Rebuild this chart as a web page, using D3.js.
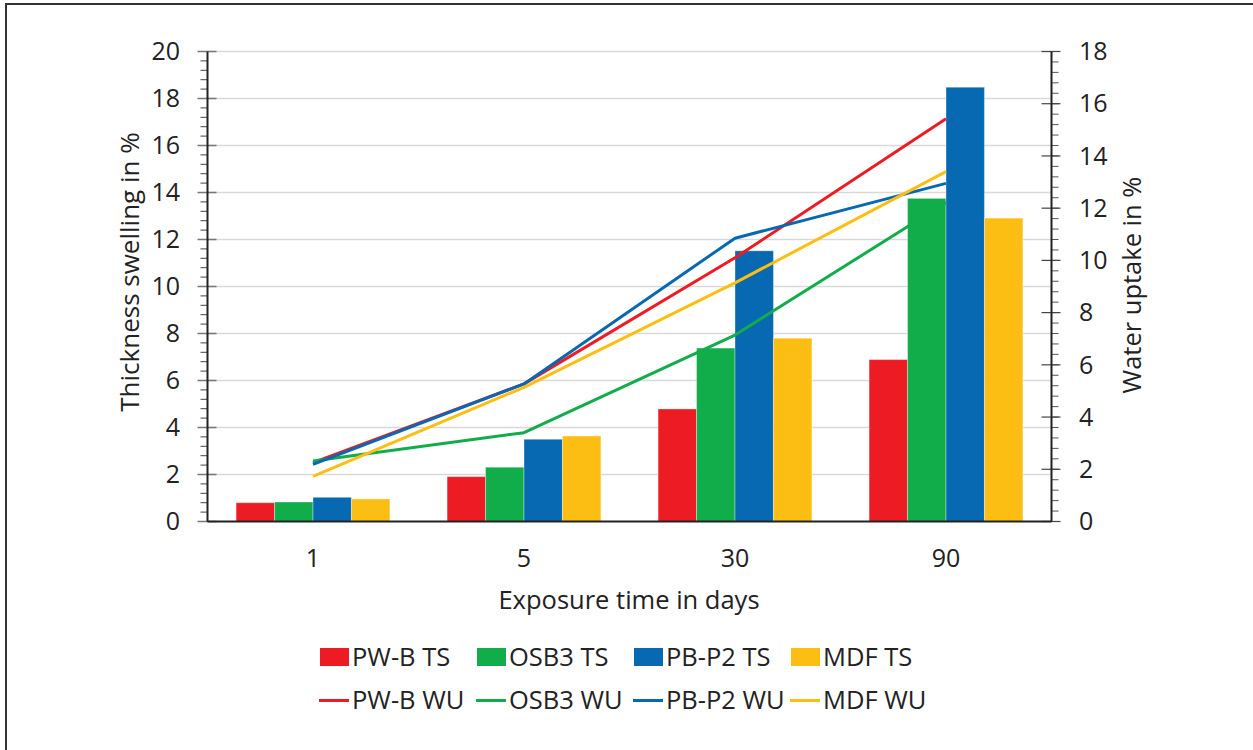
<!DOCTYPE html>
<html>
<head>
<meta charset="utf-8">
<script src="https://cdn.jsdelivr.net/npm/d3@7"></script>
<style>
  html, body { margin: 0; padding: 0; background: #fff; }
  svg { display: block; }
  text { font-family: "Open Sans", "Noto Sans", sans-serif; fill: #222; }
</style>
</head>
<body>
<svg id="chart" width="1253" height="750"></svg>
<script>
// ---- Data ----
const categories = ["1", "5", "30", "90"];
const seriesNames = ["PW-B", "OSB3", "PB-P2", "MDF"];
const tsPWB  = [0.80, 1.91, 4.79, 6.89];
const tsOSB3 = [0.83, 2.31, 7.38, 13.75];
const tsPBP2 = [1.03, 3.50, 11.52, 18.48];
const tsMDF  = [0.96, 3.64, 7.80, 12.91];
const wuPWB  = [2.25, 5.27, 10.10, 15.42];
const wuOSB3 = [2.32, 3.40, 7.14, 12.22];
const wuPBP2 = [2.19, 5.27, 10.85, 12.95];
const wuMDF  = [1.73, 5.14, 9.14, 13.40];
const leftTicks = [0, 2, 4, 6, 8, 10, 12, 14, 16, 18, 20];
const rightTicks = [0, 2, 4, 6, 8, 10, 12, 14, 16, 18];
const colors = ["#ED1C24", "#11AD4B", "#0869B3", "#FDBE14"];

const tsSeries = [tsPWB, tsOSB3, tsPBP2, tsMDF];
const wuSeries = [wuPWB, wuOSB3, wuPBP2, wuMDF];

// ---- Layout ----
const svg = d3.select("#chart");
const L = 207.5, R = 1051.5, T = 51.5, B = 521.5;

// outer frame
svg.append("rect").attr("x", 6).attr("y", 4).attr("width", 1260).attr("height", 760)
  .attr("fill", "none").attr("stroke", "#333").attr("stroke-width", 2);

const x0 = d3.scaleBand().domain(categories).range([L, R]).paddingInner(0.271).paddingOuter(0.1355);
const x1 = d3.scaleBand().domain(seriesNames).range([0, x0.bandwidth()]);
const yL = d3.scaleLinear().domain([0, 20]).range([B, T]);
const yR = d3.scaleLinear().domain([0, 18]).range([B, T]);

// gridlines
svg.append("g").selectAll("line").data(leftTicks.filter(d => d > 0)).join("line")
  .attr("x1", L).attr("x2", R).attr("y1", d => yL(d)).attr("y2", d => yL(d))
  .attr("stroke", "#d9d9d9").attr("stroke-width", 1.5);

// bars
const barG = svg.append("g");
categories.forEach((c, ci) => {
  seriesNames.forEach((s, si) => {
    const v = tsSeries[si][ci];
    barG.append("rect")
      .attr("x", x0(c) + x1(s))
      .attr("y", yL(v))
      .attr("width", x1.bandwidth())
      .attr("height", yL(0) - yL(v))
      .attr("fill", colors[si])
      .attr("stroke", "#fff").attr("stroke-opacity", 0.35).attr("stroke-width", 1);
  });
});

// lines
const line = d3.line()
  .x((d, i) => x0(categories[i]) + x0.bandwidth() / 2)
  .y(d => yR(d));
wuSeries.forEach((vals, si) => {
  svg.append("path").datum(vals).attr("d", line)
    .attr("fill", "none").attr("stroke", colors[si]).attr("stroke-width", 3)
    .attr("stroke-linejoin", "round");
});

// left axis
const minorL = d3.range(0, 20.001, 0.4);
const gL = svg.append("g");
gL.selectAll("line.minor").data(minorL).join("line")
  .attr("x1", L - 7).attr("x2", L).attr("y1", d => yL(d)).attr("y2", d => yL(d))
  .attr("stroke", "#444").attr("stroke-width", 1);
gL.selectAll("line.major").data(leftTicks).join("line")
  .attr("x1", L - 10).attr("x2", L + 9).attr("y1", d => yL(d)).attr("y2", d => yL(d))
  .attr("stroke", "#777").attr("stroke-width", 1.5);
gL.append("line").attr("x1", L).attr("x2", L).attr("y1", T).attr("y2", B)
  .attr("stroke", "#222").attr("stroke-width", 2);
gL.selectAll("text").data(leftTicks).join("text")
  .attr("x", 180).attr("y", d => yL(d)).attr("dy", "0.35em")
  .attr("text-anchor", "end").attr("font-size", 25).text(d => d);

// right axis
const minorR = d3.range(0, 18.001, 0.4);
const gR = svg.append("g");
gR.selectAll("line.minor").data(minorR).join("line")
  .attr("x1", R).attr("x2", R + 7).attr("y1", d => yR(d)).attr("y2", d => yR(d))
  .attr("stroke", "#555").attr("stroke-width", 1);
gR.selectAll("line.major").data(rightTicks).join("line")
  .attr("x1", R - 10).attr("x2", R + 9).attr("y1", d => yR(d)).attr("y2", d => yR(d))
  .attr("stroke", "#444").attr("stroke-width", 1.2);
gR.append("line").attr("x1", R).attr("x2", R).attr("y1", T).attr("y2", B)
  .attr("stroke", "#222").attr("stroke-width", 2);
gR.selectAll("text").data(rightTicks).join("text")
  .attr("x", 1079).attr("y", d => yR(d)).attr("dy", "0.35em")
  .attr("text-anchor", "start").attr("font-size", 25).text(d => d);

// x axis
svg.append("line").attr("x1", L).attr("x2", R).attr("y1", B).attr("y2", B)
  .attr("stroke", "#222").attr("stroke-width", 2);
svg.append("g").selectAll("text").data(categories).join("text")
  .attr("x", d => x0(d) + x0.bandwidth() / 2).attr("y", 558).attr("dy", "0.35em")
  .attr("text-anchor", "middle").attr("font-size", 25).text(d => d);

// axis titles
svg.append("text").attr("x", 629).attr("y", 600).attr("dy", "0.35em")
  .attr("text-anchor", "middle").attr("font-size", 25.5).text("Exposure time in days");
svg.append("text").attr("transform", "translate(130,272) rotate(-90)").attr("dy", "0.35em")
  .attr("text-anchor", "middle").attr("font-size", 26).text("Thickness swelling in %");
svg.append("text").attr("transform", "translate(1132,285) rotate(-90)").attr("dy", "0.35em")
  .attr("text-anchor", "middle").attr("font-size", 25.5).text("Water uptake in %");

// legend
const legX = d3.scaleLinear().domain([0, 3]).range([320, 791]);
const leg = svg.append("g");
seriesNames.forEach((s, i) => {
  leg.append("rect").attr("x", legX(i)).attr("y", 648).attr("width", 29).attr("height", 18)
    .attr("fill", colors[i]);
  leg.append("text").attr("x", legX(i) + 32).attr("y", 657).attr("dy", "0.35em")
    .attr("font-size", 25.5).text(s + " TS");
  leg.append("line").attr("x1", legX(i) - 1).attr("x2", legX(i) + 29)
    .attr("y1", 700.5).attr("y2", 700.5).attr("stroke", colors[i]).attr("stroke-width", 3);
  leg.append("text").attr("x", legX(i) + 32).attr("y", 700).attr("dy", "0.35em")
    .attr("font-size", 25.5).text(s + " WU");
});
</script>
</body>
</html>
